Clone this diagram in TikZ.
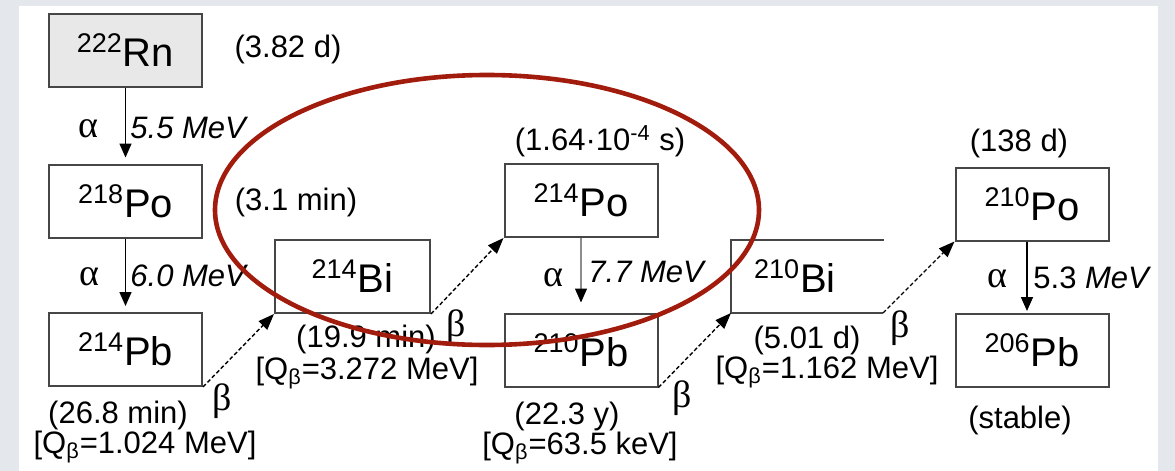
\documentclass[tikz,border=0pt]{standalone}
\usepackage{fontspec}
\setmainfont{Liberation Sans}
\newfontfamily\grk{Liberation Serif}
\usetikzlibrary{arrows.meta}
\definecolor{bggray}{RGB}{228,231,235}
\definecolor{ringred}{RGB}{162,28,14}
\definecolor{boxline}{RGB}{70,70,70}
\definecolor{rnfill}{RGB}{232,232,232}
\newcommand{\iso}[2]{\raisebox{7pt}{\fontsize{13.5}{14}\selectfont #1}\kern0.5pt{\fontsize{20}{22}\selectfont #2}}
\begin{document}
\begin{tikzpicture}[x=0.5pt,y=-0.5pt,
  nucbox/.style={draw=boxline, line width=1pt, minimum width=76.5pt, minimum height=36.5pt, inner sep=0pt, fill=white},
  openline/.style={draw=boxline, line width=1pt},
  nuctext/.style={inner sep=0pt},
  ann/.style={inner sep=0pt, font=\fontsize{15.5}{17}\selectfont},
  energy/.style={inner sep=0pt, anchor=west, font=\fontsize{15.5}{17}\selectfont\itshape},
  grklab/.style={inner sep=0pt, font=\fontsize{19}{20}\grk},
  alphaarrow/.style={line width=0.8pt, -{Triangle[width=6pt,length=7pt]}, shorten >=3pt},
  betaarrow/.style={line width=0.7pt, dash pattern=on 2pt off 1.2pt, -{Triangle[width=6pt,length=8pt]}},
  ring/.style={draw=ringred, line width=2.3pt}
  ]
% background
\fill[bggray] (0,0) rectangle (1175,471);
\fill[white] (19,6) rectangle (1158,471);
\useasboundingbox (0,0) rectangle (1175,471);

% boxes
\node[nucbox, fill=rnfill] (rn222) at (125.5,50) {\iso{222}{Rn}};
\node[nucbox] (po218) at (125.5,201) {\iso{218}{Po}};
\node[nucbox] (pb214) at (125.5,349.5) {\iso{214}{Pb}};
\node[nucbox, minimum width=77.5pt] (bi214) at (352.5,276.5) {\iso{214}{Bi}};
\node[nucbox] (po214) at (581,200.5) {\iso{214}{Po}};
\node[nucbox] (pb210) at (581,350) {\iso{210}{Pb}};
\node[nucbox] (po210) at (1032,204) {\iso{210}{Po}};
\node[nucbox] (pb206) at (1032,350.5) {\iso{206}{Pb}};

% open box of 210Bi
\coordinate (bi210tl) at (731,240);
\coordinate (bi210tr) at (884,240);
\coordinate (bi210bl) at (731,313);
\coordinate (bi210br) at (883,313);
\draw[openline] (bi210tr) -- (bi210tl) -- (bi210bl) -- (bi210br);
\node[nuctext] (bi210) at (795,276) {\iso{210}{Bi}};

% alpha decays
\draw[alphaarrow] (rn222) -- (po218);
\draw[alphaarrow] (po218) -- (pb214);
\draw[alphaarrow, draw=black!45, line width=0.6pt, -{Triangle[width=6pt,length=7pt,color=black]}, shorten >=5pt] (po214) -- (pb210);
\draw[alphaarrow, shorten >=1pt] ([xshift=-2.5pt]po210.south) -- ([xshift=-2.5pt]pb206.north);

% beta decays
\draw[betaarrow] (pb214.south east) -- (bi214.south west);
\draw[betaarrow] (bi214.south east) -- (po214.south west);
\draw[betaarrow] (pb210.south east) -- (bi210bl);
\draw[betaarrow] (bi210br) -- (po210.south west);

% alpha labels
\node[grklab] (a1) at (88,129) {α};
\node[energy] (e1) at (130,128) {5.5 MeV};
\node[grklab] (a2) at (89,277) {α};
\node[energy] (e2) at (130,276) {6.0 MeV};
\node[grklab] (a3) at (553,278) {α};
\node[energy] (e3) at (588,272) {7.7 MeV};
\node[grklab] (a4) at (997,279) {α};
\node[energy] (e4) at (1033,278) {\upshape 5.3 \itshape MeV};

% beta labels
\node[grklab] (b1) at (222,401) {β};
\node[grklab] (b2) at (456,327) {β};
\node[grklab] (b3) at (682,398) {β};
\node[grklab] (b4) at (900,328) {β};

% half-lives and Q values
\node[ann] (t1) at (288,49) {(3.82 d)};
\node[ann] (t2) at (296,202) {(3.1 min)};
\node[ann] (t3) at (118,415) {(26.8 min)};
\node[ann] (q3) at (145,447) {[Q\textsubscript{β}=1.024 MeV]};
\node[ann] (t4) at (366,339) {(19.9 min)};
\node[ann] (q4) at (367,373) {[Q\textsubscript{β}=3.272 MeV]};
\node[ann] (t5) at (600,141) {(1.64·10\textsuperscript{-4} s)};
\node[ann] (t6) at (567,416) {(22.3 y)};
\node[ann] (q6) at (580,448) {[Q\textsubscript{β}=63.5 keV]};
\node[ann] (t7) at (807,340) {(5.01 d)};
\node[ann] (q7) at (827,372) {[Q\textsubscript{β}=1.162 MeV]};
\node[ann] (t8) at (1019,143) {(138 d)};
\node[ann] (t9) at (1020,420) {(stable)};

% red ring
\draw[ring] (487,210) ellipse [x radius=136pt, y radius=67.5pt];
\end{tikzpicture}
\end{document}
